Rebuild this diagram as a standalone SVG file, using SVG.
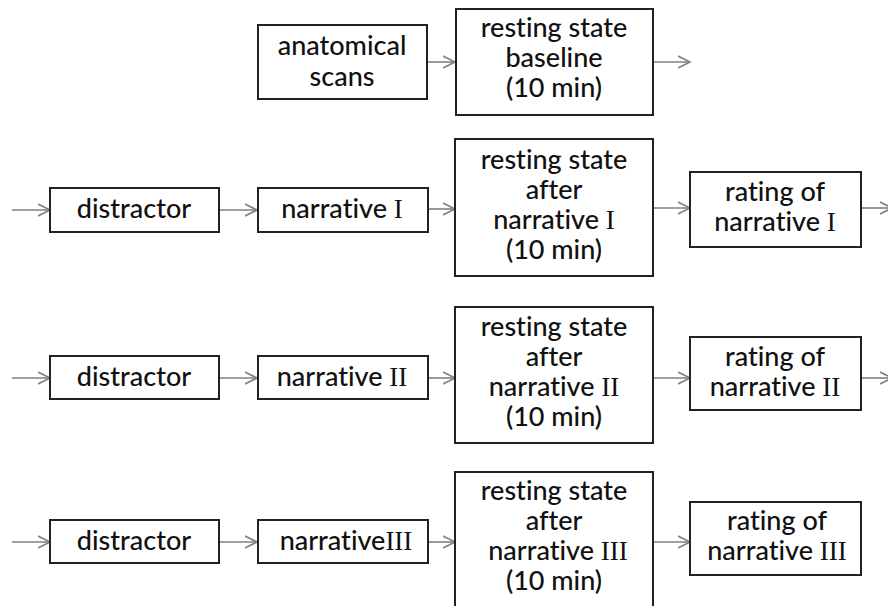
<svg xmlns="http://www.w3.org/2000/svg" width="888" height="606" viewBox="0 0 888 606">
<style>
.box{fill:#fff;stroke:#222;stroke-width:2}
.t{font-family:Lato,"Open Sans","Liberation Sans",sans-serif;font-size:27px;font-weight:500;fill:#111;text-anchor:middle;font-variant-ligatures:none}
.r{font-family:"Liberation Serif","DejaVu Serif",serif;font-size:27px;font-weight:normal}
.c{stroke:#808080;stroke-width:1.6;fill:none;marker-end:url(#ah)}
</style>
<defs>
<marker id="ah" markerUnits="userSpaceOnUse" markerWidth="14" markerHeight="14" refX="12" refY="7" orient="auto">
<path d="M0,1 L12,7 L0,13" fill="none" stroke="#808080" stroke-width="1.6"/>
</marker>
</defs>
<rect width="888" height="606" fill="#fff"/>
<g id="connectors">
<line class="c" x1="427" y1="62" x2="455" y2="62"/>
<line class="c" x1="653" y1="62" x2="690" y2="62"/>
<line class="c" x1="12" y1="210" x2="50" y2="210"/>
<line class="c" x1="219" y1="210" x2="257" y2="210"/>
<line class="c" x1="428" y1="209" x2="455" y2="209"/>
<line class="c" x1="653" y1="208" x2="690" y2="208"/>
<line class="c" x1="861" y1="208" x2="892" y2="208"/>
<line class="c" x1="12" y1="378" x2="50" y2="378"/>
<line class="c" x1="219" y1="378" x2="257" y2="378"/>
<line class="c" x1="428" y1="378" x2="455" y2="378"/>
<line class="c" x1="653" y1="378" x2="690" y2="378"/>
<line class="c" x1="861" y1="378" x2="892" y2="378"/>
<line class="c" x1="12" y1="542" x2="50" y2="542"/>
<line class="c" x1="219" y1="542" x2="257" y2="542"/>
<line class="c" x1="428" y1="542" x2="455" y2="542"/>
<line class="c" x1="653" y1="542" x2="690" y2="542"/>
</g>
<g id="anatomical">
<rect class="box" x="258" y="25" width="169" height="74"/>
<text class="t" x="342" y="55">anatomical</text>
<text class="t" x="342" y="86">scans</text>
</g>
<g id="baseline">
<rect class="box" x="456" y="9" width="197" height="106"/>
<text class="t" x="554" y="37">resting state</text>
<text class="t" x="554" y="67">baseline</text>
<text class="t" x="554" y="97">(10 min)</text>
</g>
<g id="distractor1">
<rect class="box" x="50" y="188" width="169" height="44"/>
<text class="t" x="134" y="218">distractor</text>
</g>
<g id="narrative1">
<rect class="box" x="258" y="188" width="170" height="44"/>
<text class="t" x="342" y="218">narrative <tspan class="r">I</tspan></text>
</g>
<g id="rest1">
<rect class="box" x="455" y="139" width="198" height="137"/>
<text class="t" x="554" y="169">resting state</text>
<text class="t" x="554" y="199">after</text>
<text class="t" x="554" y="229">narrative <tspan class="r">I</tspan></text>
<text class="t" x="554" y="259">(10 min)</text>
</g>
<g id="rating1">
<rect class="box" x="690" y="172" width="171" height="75"/>
<text class="t" x="775" y="201">rating of</text>
<text class="t" x="775" y="231">narrative <tspan class="r">I</tspan></text>
</g>
<g id="distractor2">
<rect class="box" x="50" y="356" width="169" height="43"/>
<text class="t" x="134" y="386">distractor</text>
</g>
<g id="narrative2">
<rect class="box" x="258" y="356" width="170" height="43"/>
<text class="t" x="342" y="386">narrative <tspan class="r">II</tspan></text>
</g>
<g id="rest2">
<rect class="box" x="455" y="307" width="198" height="136"/>
<text class="t" x="554" y="336">resting state</text>
<text class="t" x="554" y="366">after</text>
<text class="t" x="554" y="396">narrative <tspan class="r">II</tspan></text>
<text class="t" x="554" y="426">(10 min)</text>
</g>
<g id="rating2">
<rect class="box" x="690" y="337" width="171" height="73"/>
<text class="t" x="775" y="366">rating of</text>
<text class="t" x="775" y="396">narrative <tspan class="r">II</tspan></text>
</g>
<g id="distractor3">
<rect class="box" x="50" y="520" width="169" height="43"/>
<text class="t" x="134" y="550">distractor</text>
</g>
<g id="narrative3">
<rect class="box" x="258" y="520" width="170" height="43"/>
<text class="t" x="346" y="550">narrative<tspan class="r">III</tspan></text>
</g>
<g id="rest3">
<rect class="box" x="455" y="472" width="198" height="140"/>
<text class="t" x="554" y="500">resting state</text>
<text class="t" x="554" y="530">after</text>
<text class="t" x="558" y="560">narrative <tspan class="r">III</tspan></text>
<text class="t" x="554" y="590">(10 min)</text>
</g>
<g id="rating3">
<rect class="box" x="690" y="502" width="171" height="73"/>
<text class="t" x="777" y="530">rating of</text>
<text class="t" x="777" y="560">narrative <tspan class="r">III</tspan></text>
</g>
</svg>
